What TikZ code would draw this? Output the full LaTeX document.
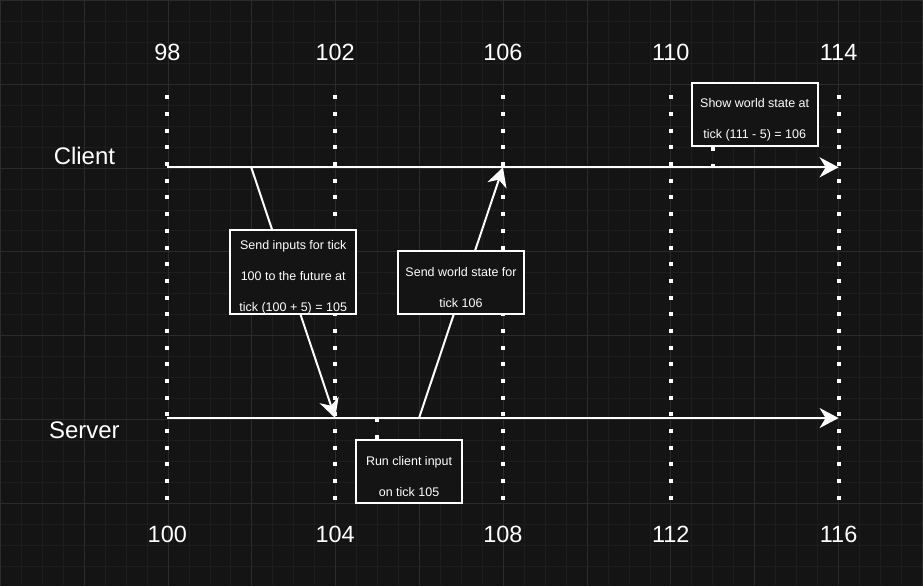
\documentclass[tikz,border=0pt]{standalone}
\usepackage{fontspec}
\setmainfont{Liberation Sans}
\usetikzlibrary{arrows.meta}
\definecolor{canvas}{HTML}{141414}
\definecolor{gridminor}{HTML}{1D1D1D}
\definecolor{gridmajor}{HTML}{2B2B2B}
\tikzset{
  ticklbl/.style={text=white, font=\fontsize{23.5}{28}\selectfont, inner sep=0pt},
  rowlbl/.style={text=white, font=\fontsize{24}{28}\selectfont, inner sep=0pt},
  notebox/.style={draw=white, line width=2pt, fill=canvas, text=white, align=center,
    font=\fontsize{12.5}{31}\selectfont, inner sep=0pt, text height=50pt},
  timeline/.style={draw=white, line width=2pt, -{Stealth[length=19pt,width=20pt,inset=6pt]}},
  tickline/.style={draw=white, line width=4pt, dash pattern=on 4pt off 12.7pt},
}
\begin{document}
\begin{tikzpicture}[x=1pt, y=-1pt]
\fill[canvas] (0,0) rectangle (923,586);
\draw[gridminor, line width=1pt, step=20.975pt] (0,586) grid (923,0);
\draw[gridmajor, line width=1pt, step=83.9pt] (0,586) grid (923,0);
\useasboundingbox (0,0) rectangle (923,586);
% tick columns
\coordinate (d98) at (167,95);
\coordinate (d100) at (167,503);
\coordinate (d102) at (335,95);
\coordinate (d104) at (335,503);
\coordinate (d106) at (503,95);
\coordinate (d108) at (503,503);
\coordinate (d110) at (671,95);
\coordinate (d112) at (671,503);
\coordinate (d114) at (839,95);
\coordinate (d116) at (839,503);
\draw[tickline] (d98) -- (d100);
\draw[tickline] (d102) -- (d104);
\draw[tickline] (d106) -- (d108);
\draw[tickline] (d110) -- (d112);
\draw[tickline] (d114) -- (d116);
% timelines
\coordinate (cl0) at (167,167);
\coordinate (cl1) at (839,167);
\coordinate (sv0) at (167,418);
\coordinate (sv1) at (839,418);
\draw[timeline] (cl0) -- (cl1);
\draw[timeline] (sv0) -- (sv1);
% messages
\coordinate (in0) at (251,167);
\coordinate (in1) at (335,418);
\coordinate (ws0) at (419,418);
\coordinate (ws1) at (503,167);
\draw[timeline] (in0) -- (in1);
\draw[timeline] (ws0) -- (ws1);
% notes
\node[notebox, text height=81pt, minimum width=126pt, minimum height=84pt] (sendin) at (293,272)
  {Send inputs for tick\\100 to the future at\\tick (100 + 5) = 105};
\node[notebox, minimum width=126pt, minimum height=63pt] (sendws) at (461,282.5)
  {Send world state for\\tick 106};
\node[notebox, minimum width=106pt, minimum height=63pt] (runin) at (409,471.5)
  {Run client input\\on tick 105};
\node[notebox, minimum width=126pt, minimum height=63pt] (showws) at (755,114.5)
  {Show world state at\\tick (111 - 5) = 106};
\coordinate (sv105) at (377,418);
\coordinate (cl111) at (713,167);
\draw[tickline] (sv105) -- (sv105 |- runin.north);
\draw[tickline] (showws.south -| cl111) -- (cl111);
% labels
\node[rowlbl] (client) at (84,156) {Client};
\node[rowlbl] (server) at (84,430) {Server};
\node[ticklbl] (t98) at (167,52) {98};
\node[ticklbl] (t102) at (335,52) {102};
\node[ticklbl] (t106) at (503,52) {106};
\node[ticklbl] (t110) at (671,52) {110};
\node[ticklbl] (t114) at (839,52) {114};
\node[ticklbl] (b100) at (167,534) {100};
\node[ticklbl] (b104) at (335,534) {104};
\node[ticklbl] (b108) at (503,534) {108};
\node[ticklbl] (b112) at (671,534) {112};
\node[ticklbl] (b116) at (839,534) {116};
\end{tikzpicture}
\end{document}
